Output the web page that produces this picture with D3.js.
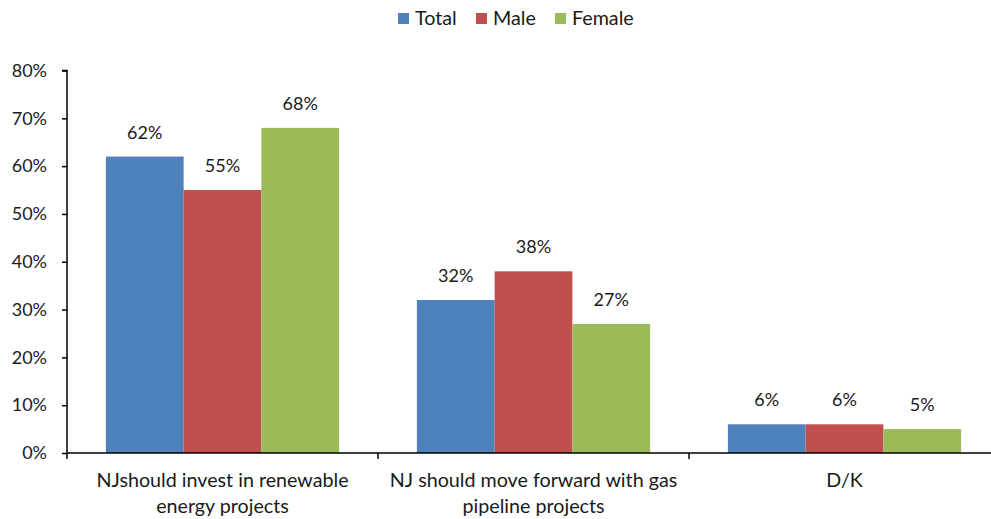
<!DOCTYPE html>
<html><head><meta charset="utf-8">
<script src="https://cdn.jsdelivr.net/npm/d3@7"></script>
<style>body{margin:0;background:#fff}text{font-family:Lato,"Open Sans",sans-serif;fill:#1a1a1a}</style>
</head><body><svg id="c" width="991" height="519"></svg>
<script>
const categories = ["NJshould invest in renewable energy projects", "NJ should move forward with gas pipeline projects", "D/K"];
const categoryLines = [["NJshould invest in renewable", "energy projects"], ["NJ should move forward with gas", "pipeline projects"], ["D/K"]];
const seriesNames = ["Total", "Male", "Female"];
const totalValues = [62, 32, 6];
const maleValues = [55, 38, 6];
const femaleValues = [68, 27, 5];
const yTicks = [0, 10, 20, 30, 40, 50, 60, 70, 80];
const colors = ["#4F81BD", "#C0504D", "#9BBB59"];

const series = [totalValues, maleValues, femaleValues];
const svg = d3.select("#c");
const pLeft = 67, pRight = 1000, pTop = 70.5, pBottom = 453;
const fs = 18, fsText = 19.7;

const x0 = d3.scaleBand().domain(categories).range([pLeft, pRight]).paddingInner(0).paddingOuter(0);
const x1 = d3.scaleBand().domain(seriesNames).range([0, x0.bandwidth()]).paddingOuter(0.5).paddingInner(0);
const y = d3.scaleLinear().domain([0, 80]).range([pBottom, pTop]);

categories.forEach((c, ci) => {
  seriesNames.forEach((s, si) => {
    const v = series[si][ci];
    svg.append("rect")
      .attr("x", x0(c) + x1(s)).attr("y", y(v))
      .attr("width", x1.bandwidth()).attr("height", y(0) - y(v))
      .attr("fill", colors[si]);
    svg.append("text")
      .attr("x", x0(c) + x1(s) + x1.bandwidth() / 2).attr("y", y(v) - 18)
      .attr("text-anchor", "middle").style("font-size", fs + "px")
      .text(v + "%");
  });
});

const ya = svg.append("g").attr("transform", `translate(${pLeft},0)`)
  .call(d3.axisLeft(y).tickValues(yTicks).tickFormat(d => d + "%").tickSize(5).tickPadding(15));
ya.select(".domain").attr("d", `M-5,${pTop}H0V${pBottom}`);
ya.selectAll("line").attr("stroke", "#000").attr("stroke-width", 1.5);
ya.select(".domain").attr("stroke", "#000").attr("stroke-width", 1.5);
ya.selectAll("text").style("font-size", fs + "px").style("font-family", "Lato").attr("fill", "#1a1a1a");

const xa = svg.append("g").attr("transform", `translate(0,${pBottom})`);
xa.append("line").attr("x1", pLeft).attr("x2", 991).attr("y1", 0).attr("y2", 0).attr("stroke", "#000").attr("stroke-width", 1.5);
categories.forEach((c, ci) => {
  xa.append("line").attr("x1", x0(c)).attr("x2", x0(c)).attr("y1", 0).attr("y2", 6).attr("stroke", "#000").attr("stroke-width", 1.5);
  categoryLines[ci].forEach((ln, li) => {
    xa.append("text").attr("x", x0(c) + x0.bandwidth() / 2).attr("y", 34 + li * 26)
      .attr("text-anchor", "middle").style("font-size", fsText + "px").text(ln);
  });
});

const legX = [398, 476, 555];
seriesNames.forEach((s, si) => {
  const g = svg.append("g").attr("transform", `translate(${legX[si]},0)`);
  g.append("rect").attr("x", 0).attr("y", 13).attr("width", 11).attr("height", 11).attr("fill", colors[si]);
  g.append("text").attr("x", 17).attr("y", 25).style("font-size", fsText + "px").text(s);
});
</script></body></html>
